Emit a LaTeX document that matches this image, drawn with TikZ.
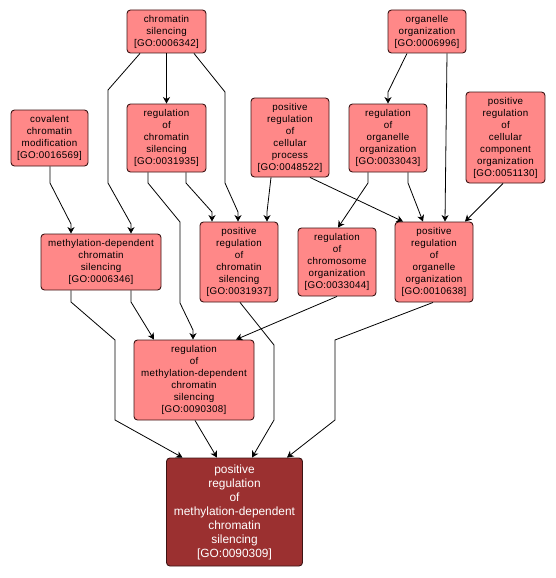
\documentclass[tikz,border=0pt]{standalone}
\usepackage{fontspec}
\setmainfont{Liberation Sans}
\usetikzlibrary{arrows.meta}
\definecolor{nodefill}{RGB}{255,136,136}
\definecolor{nodeline}{RGB}{60,20,20}
\definecolor{hifill}{RGB}{155,48,48}
\tikzset{
  term/.style={draw=nodeline, line width=0.9pt, fill=nodefill, rounded corners=3.5pt,
    inner sep=0pt, align=center, text=black,
    font=\addfontfeature{LetterSpace=3}\fontsize{9.8}{12}\selectfont},
  focus/.style={term, fill=hifill, text=white, font=\fontsize{11.9}{14}\selectfont},
  edge/.style={draw=black, line width=0.8pt, -{Stealth[length=6.5pt,width=7pt,inset=2pt]}},
}
\begin{document}
\begin{tikzpicture}[x=1pt,y=-1pt]
\useasboundingbox (0,0) rectangle (555,578);
\fill[white] (0,0) rectangle (555,578);
% nodes
\node[term, minimum width=79pt, minimum height=43pt] (CS) at (166.5,31.5) {chromatin\\silencing\\{[GO:0006342]}};
\node[term, minimum width=78pt, minimum height=43pt] (OO) at (427,31.5) {organelle\\organization\\{[GO:0006996]}};
\node[term, minimum width=77pt, minimum height=56pt] (CCM) at (49.5,138) {covalent\\chromatin\\modification\\{[GO:0016569]}};
\node[term, minimum width=79pt, minimum height=68pt] (ROCS) at (166.5,138) {regulation\\of\\chromatin\\silencing\\{[GO:0031935]}};
\node[term, minimum width=78pt, minimum height=79pt] (PRCP) at (290,137.5) {positive\\regulation\\of\\cellular\\process\\{[GO:0048522]}};
\node[term, minimum width=78pt, minimum height=68pt] (ROO) at (388,138) {regulation\\of\\organelle\\organization\\{[GO:0033043]}};
\node[term, minimum width=79pt, minimum height=91pt] (PRCCO) at (505.5,137.5) {positive\\regulation\\of\\cellular\\component\\organization\\{[GO:0051130]}};
\node[term, minimum width=120pt, minimum height=56pt] (MDCS) at (101,262) {methylation-dependent\\chromatin\\silencing\\{[GO:0006346]}};
\node[term, minimum width=78pt, minimum height=80pt] (PRCS) at (239,262) {positive\\regulation\\of\\chromatin\\silencing\\{[GO:0031937]}};
\node[term, minimum width=78pt, minimum height=68pt] (RCO) at (337,262) {regulation\\of\\chromosome\\organization\\{[GO:0033044]}};
\node[term, minimum width=78pt, minimum height=80pt] (PROO) at (434,262) {positive\\regulation\\of\\organelle\\organization\\{[GO:0010638]}};
\node[term, minimum width=120pt, minimum height=80pt] (RMDCS) at (194,380) {regulation\\of\\methylation-dependent\\chromatin\\silencing\\{[GO:0090308]}};
\node[focus, minimum width=136pt, minimum height=108pt] (BOT) at (234.5,512) {positive\\regulation\\of\\methylation-dependent\\chromatin\\silencing\\{[GO:0090309]}};
% edges
\draw[edge] (CS.south) -- (ROCS.north);
\draw[edge] ([xshift=-26.5pt]CS.south) -- (108,90) -- (108,183) -- (131,224) -- ([xshift=30pt]MDCS.north);
\draw[edge] ([xshift=27.5pt]CS.south) -- (225,92) -- (225,183) -- (238,212) -- ([xshift=-1pt]PRCS.north);
\draw[edge] ([xshift=0.5pt]CCM.south) -- (50,183) -- (71,224) -- ([xshift=-30pt]MDCS.north);
\draw[edge] ([xshift=19.5pt]ROCS.south) -- (186,183) -- (212,212) -- ([xshift=-27pt]PRCS.north);
\draw[edge] ([xshift=-18.5pt]ROCS.south) -- (148,183) -- (180,222) -- (180,303) -- (193,330) -- ([xshift=-1pt]RMDCS.north);
\draw[edge] ([xshift=-19pt]PRCP.south) -- (267,212) -- ([xshift=28pt]PRCS.north);
\draw[edge] ([xshift=20pt]PRCP.south) -- ([xshift=-31pt]PROO.north);
\draw[edge] ([xshift=-20pt]ROO.south) -- (368,183) -- ([xshift=1pt]RCO.north);
\draw[edge] ([xshift=20pt]ROO.south) -- (408,183) -- ([xshift=-11pt]PROO.north);
\draw[edge] ([xshift=-20pt]OO.south) -- (388,92) -- (ROO.north);
\draw[edge] ([xshift=20pt]OO.south) -- ([xshift=11pt]PROO.north);
\draw[edge] ([xshift=-2.5pt]PRCCO.south) -- ([xshift=31pt]PROO.north);
\draw[edge] ([xshift=-30pt]MDCS.south) -- (71,302) -- (115,340) -- (115,420) -- ([xshift=-52pt]BOT.north);
\draw[edge] ([xshift=30pt]MDCS.south) -- (131,302) -- ([xshift=-40pt]RMDCS.north);
\draw[edge] ([xshift=1pt]PRCS.south) -- (274,345) -- (274,420) -- ([xshift=17.5pt]BOT.north);
\draw[edge] (RCO.south) -- ([xshift=42pt]RMDCS.north);
\draw[edge] ([xshift=-1pt]PROO.south) -- (335,340) -- (335,420) -- ([xshift=52.5pt]BOT.north);
\draw[edge] ([xshift=1pt]RMDCS.south) -- ([xshift=-17.5pt]BOT.north);
\end{tikzpicture}
\end{document}
